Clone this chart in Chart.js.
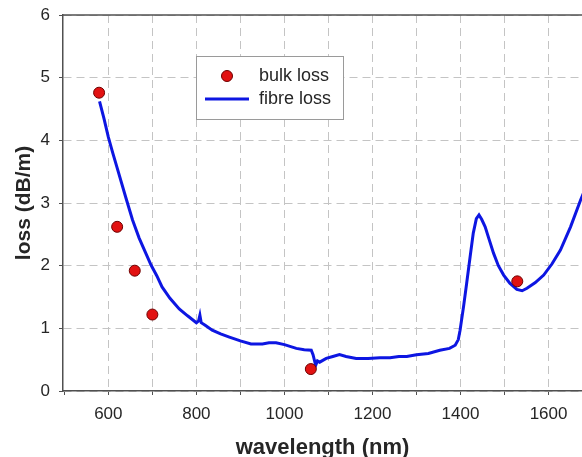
<!DOCTYPE html>
<html>
<head>
<meta charset="utf-8">
<script src="https://cdn.jsdelivr.net/npm/chart.js@4"></script>
<style>
  html, body { margin: 0; padding: 0; background: #fff; overflow: hidden; }
  #wrap { width: 582px; height: 457px; }
  canvas { display: block; }
</style>
</head>
<body>
<div id="wrap"><canvas id="chart" width="582" height="457"></canvas></div>
<script>
// values
const xTickValues = [500, 600, 700, 800, 900, 1000, 1100, 1200, 1300, 1400, 1500, 1600];
const xLabelValues = [600, 800, 1000, 1200, 1400, 1600];

const bulkWavelength = [579, 620, 660, 700, 1060, 1529];
const bulkLoss = [4.76, 2.62, 1.92, 1.22, 0.35, 1.75];

const fibreWavelength = [
  580, 590, 600, 610, 620, 640, 655, 670, 685, 697, 710, 722, 740, 761, 780,
  800, 805, 808, 811, 820, 836, 855, 875, 900, 924, 950, 965, 981, 1000, 1027,
  1045, 1061, 1065, 1071, 1075, 1080, 1095, 1110, 1125, 1140, 1163, 1190, 1217,
  1240, 1260, 1278, 1300, 1327, 1353, 1375, 1388, 1395, 1399, 1407, 1414, 1422,
  1429, 1436, 1442, 1448, 1456, 1465, 1475, 1486, 1498, 1512, 1528, 1540, 1551,
  1570, 1589, 1608, 1627, 1650, 1673, 1682
];
const fibreLoss = [
  4.62, 4.35, 4.05, 3.80, 3.56, 3.08, 2.73, 2.44, 2.20, 2.01, 1.84, 1.66, 1.48, 1.31, 1.20,
  1.09, 1.12, 1.21, 1.09, 1.05, 0.97, 0.91, 0.86, 0.80, 0.75, 0.75, 0.77, 0.77, 0.74, 0.68,
  0.66, 0.65, 0.58, 0.41, 0.48, 0.46, 0.52, 0.55, 0.58, 0.55, 0.52, 0.52, 0.53,
  0.53, 0.55, 0.55, 0.58, 0.60, 0.65, 0.68, 0.73, 0.82, 0.97, 1.35, 1.72, 2.15,
  2.52, 2.75, 2.81, 2.74, 2.62, 2.42, 2.20, 2.00, 1.85, 1.72, 1.62, 1.60, 1.64,
  1.73, 1.85, 2.03, 2.25, 2.62, 3.05, 3.20
];

const AXIS_COLOR = '#505050';
const GRID_COLOR = '#c4c4c4';
const TEXT_COLOR = '#262626';

// drop the label overhang padding so the plot area sits where the reference has it
const noScalePadding = (scale) => {
  scale.paddingLeft = 0;
  scale.paddingRight = 0;
  scale.paddingTop = 0;
  scale.paddingBottom = 0;
};

// top frame line + legend box inside the plot
const frameAndLegend = {
  id: 'frameAndLegend',
  afterDraw(chart) {
    const { ctx, chartArea } = chart;
    const [bulk, fibre] = chart.data.datasets;
    ctx.save();

    ctx.strokeStyle = AXIS_COLOR;
    ctx.lineWidth = 1.5;
    ctx.beginPath();
    ctx.moveTo(chartArea.left, chartArea.top);
    ctx.lineTo(chartArea.right, chartArea.top);
    ctx.stroke();

    ctx.fillStyle = '#fff';
    ctx.fillRect(196, 56, 147, 63);
    ctx.strokeStyle = '#9a9a9a';
    ctx.lineWidth = 1;
    ctx.strokeRect(196.5, 56.5, 147, 63);

    ctx.beginPath();
    ctx.arc(227, 76, bulk.pointRadius, 0, Math.PI * 2);
    ctx.fillStyle = bulk.backgroundColor;
    ctx.fill();
    ctx.strokeStyle = bulk.borderColor;
    ctx.lineWidth = bulk.borderWidth;
    ctx.stroke();

    ctx.beginPath();
    ctx.moveTo(205, 99);
    ctx.lineTo(249, 99);
    ctx.strokeStyle = fibre.borderColor;
    ctx.lineWidth = fibre.borderWidth;
    ctx.stroke();

    ctx.fillStyle = TEXT_COLOR;
    ctx.font = '18px "Liberation Sans", Arial, sans-serif';
    ctx.textBaseline = 'middle';
    ctx.fillText(bulk.label, 259, 76);
    ctx.fillText(fibre.label, 259, 99);
    ctx.restore();
  }
};

new Chart(document.getElementById('chart'), {
  type: 'scatter',
  data: {
    datasets: [
      {
        label: 'bulk loss',
        data: bulkWavelength.map((x, i) => ({ x, y: bulkLoss[i] })),
        backgroundColor: '#e21212',
        borderColor: '#6e0000',
        borderWidth: 1,
        pointRadius: 5.5,
        order: 0,
      },
      {
        label: 'fibre loss',
        type: 'line',
        data: fibreWavelength.map((x, i) => ({ x, y: fibreLoss[i] })),
        borderColor: '#0d16e2',
        backgroundColor: '#0d16e2',
        borderWidth: 3,
        pointRadius: 0,
        tension: 0,
        fill: false,
        order: 1,
      },
    ],
  },
  options: {
    responsive: false,
    animation: false,
    layout: { autoPadding: false, padding: { top: 15, right: 0, left: 0, bottom: 0 } },
    plugins: {
      legend: { display: false },
      tooltip: { enabled: false },
    },
    scales: {
      x: {
        type: 'linear',
        min: 497,
        max: 1676,
        afterFit: (scale) => { scale.height = 66; noScalePadding(scale); },
        afterBuildTicks: (scale) => {
          scale.ticks = xTickValues.map((value) => ({ value }));
        },
        ticks: {
          padding: 9,
          color: TEXT_COLOR,
          font: { family: '"Liberation Sans", Arial, sans-serif', size: 17 },
          maxRotation: 0,
          autoSkip: false,
          callback: (val) => (xLabelValues.includes(val) ? String(val) : ''),
        },
        grid: {
          color: (c) => (c.tick && c.tick.value === 500 ? 'rgba(0,0,0,0)' : GRID_COLOR),
          lineWidth: 1,
          tickLength: 4,
          tickColor: AXIS_COLOR,
        },
        border: { color: AXIS_COLOR, width: 1.5, dash: [8, 5] },
        title: {
          display: true,
          text: 'wavelength (nm)',
          color: TEXT_COLOR,
          font: { family: '"Liberation Sans", Arial, sans-serif', size: 22, weight: 'bold', lineHeight: 0.8 },
          padding: { top: 0, bottom: 0 },
        },
      },
      y: {
        min: 0,
        max: 6,
        afterFit: (scale) => { scale.width = 63; noScalePadding(scale); },
        ticks: {
          stepSize: 1,
          padding: 9,
          color: TEXT_COLOR,
          font: { family: '"Liberation Sans", Arial, sans-serif', size: 17 },
        },
        grid: {
          color: GRID_COLOR,
          lineWidth: 1,
          tickLength: 4,
          tickColor: AXIS_COLOR,
        },
        border: { color: AXIS_COLOR, width: 1.5, dash: [8, 5] },
        title: {
          display: true,
          text: 'loss (dB/m)',
          color: TEXT_COLOR,
          font: { family: '"Liberation Sans", Arial, sans-serif', size: 21, weight: 'bold' },
          padding: { top: 12, bottom: 0 },
        },
      },
    },
  },
  plugins: [frameAndLegend],
});
</script>
</body>
</html>
